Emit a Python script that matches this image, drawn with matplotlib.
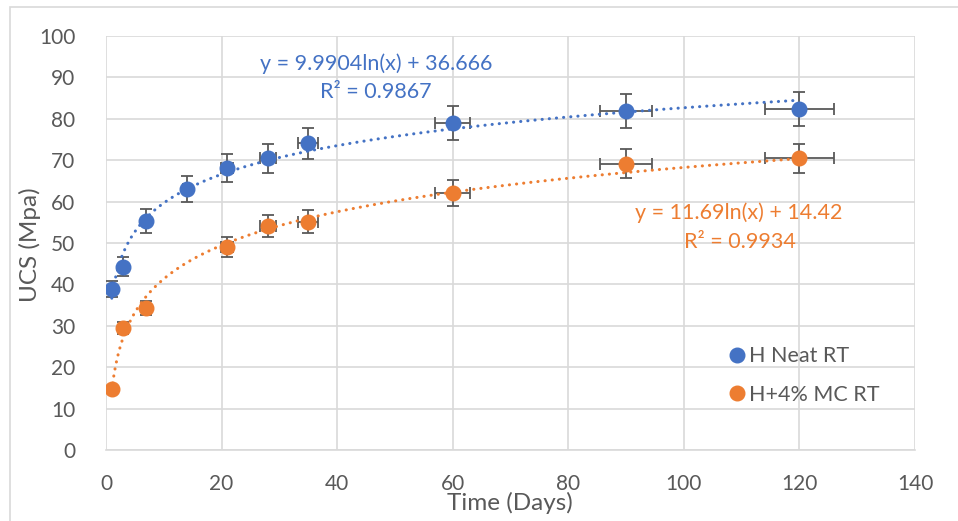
import numpy as np
import matplotlib.pyplot as plt
from matplotlib.lines import Line2D
from matplotlib.patches import Rectangle

plt.rcParams['font.family'] = ['Lato', 'DejaVu Sans']

days = [1, 3, 7, 14, 21, 28, 35, 60, 90, 120]
neat_ucs = [38.9, 44.3, 55.3, 63.0, 68.1, 70.5, 74.1, 79.0, 81.9, 82.3]
neat_err = [1.9, 2.2, 2.8, 3.2, 3.4, 3.5, 3.7, 4.0, 4.1, 4.1]

mc_days = [1, 3, 7, 21, 28, 35, 60, 90, 120]
mc_ucs = [14.7, 29.5, 34.3, 49.0, 54.1, 55.1, 62.1, 69.1, 70.5]
mc_err = [0.7, 1.5, 1.7, 2.5, 2.7, 2.8, 3.1, 3.5, 3.5]

days_err = [0.05, 0.15, 0.35, 0.7, 1.05, 1.4, 1.75, 3.0, 4.5, 6.0]
mc_days_err = [0.05, 0.15, 0.35, 1.05, 1.4, 1.75, 3.0, 4.5, 6.0]

# trendline coefficients (a*ln(x) + b) as printed on the chart
neat_fit = (9.9904, 36.666)
mc_fit = (11.69, 14.42)

blue = '#4472C4'
orange = '#ED7D31'
grey = '#595959'
grid = '#D9D9D9'

W, H = 958, 521
fig = plt.figure(figsize=(W / 100, H / 100), dpi=100)
ax = fig.add_axes([106 / W, 1 - 450 / H, (915 - 106) / W, (450 - 36) / H])

for x, y, xe, ye, c, fit in [(days, neat_ucs, days_err, neat_err, blue, neat_fit),
                            (mc_days, mc_ucs, mc_days_err, mc_err, orange, mc_fit)]:
    ax.errorbar(x, y, yerr=ye, xerr=xe, fmt='none', ecolor=grey,
                elinewidth=1.3, capsize=4.5, capthick=1.3, zorder=3)
    ax.plot(x, y, 'o', color=c, markersize=10.5, zorder=4)
    xt = np.linspace(1, 120, 400)
    ax.plot(xt, fit[0] * np.log(xt) + fit[1], color=c, lw=2.2,
            linestyle=(0, (0.05, 2.3)), dash_capstyle='round', zorder=5)

ax.set_xlim(0, 140)
ax.set_ylim(0, 100)
ax.set_xticks(range(0, 141, 20))
ax.set_yticks(range(0, 101, 10))
ax.grid(True, color=grid, lw=1.2, zorder=0)
ax.set_axisbelow(True)
for s in ['top', 'right', 'left']:
    ax.spines[s].set_visible(False)
ax.spines['bottom'].set_color(grid)
ax.spines['bottom'].set_linewidth(1.2)
ax.tick_params(length=0, labelsize=15, labelcolor=grey)
ax.tick_params(axis='x', pad=17)
ax.tick_params(axis='y', pad=22)


def ftext(px, py, s, **kw):
    fig.text(px / W, 1 - py / H, s, ha='center', va='center', **kw)


ftext(376, 64, 'y = 9.9904ln(x) + 36.666', color=blue, fontsize=15.5)
ftext(376, 92, 'R² = 0.9867', color=blue, fontsize=15.5)
ftext(739, 213, 'y = 11.69ln(x) + 14.42', color=orange, fontsize=15.5)
ftext(740, 242, 'R² = 0.9934', color=orange, fontsize=15.5)

ftext(510, 503, 'Time (Days)', color=grey, fontsize=17.5)
ftext(30, 245, 'UCS (Mpa)', color=grey, fontsize=17.5, rotation=90)

handles = [Line2D([], [], marker='o', ls='none', color=blue, markersize=10.5),
           Line2D([], [], marker='o', ls='none', color=orange, markersize=10.5)]
leg = fig.legend(handles, ['H Neat RT', 'H+4% MC RT'], loc='upper left',
                 bbox_to_anchor=(710 / W, 1 - 327 / H), frameon=False,
                 fontsize=15.5, labelspacing=0.85, handlelength=0.7, handletextpad=0.2)
for t in leg.get_texts():
    t.set_color(grey)

fig.patches.append(Rectangle((10 / W, -0.1), 1.2, 1 - 7 / H + 0.1,
                             transform=fig.transFigure, fill=False, edgecolor=grid, lw=1.2))

fig.savefig('out.png', dpi=100)
